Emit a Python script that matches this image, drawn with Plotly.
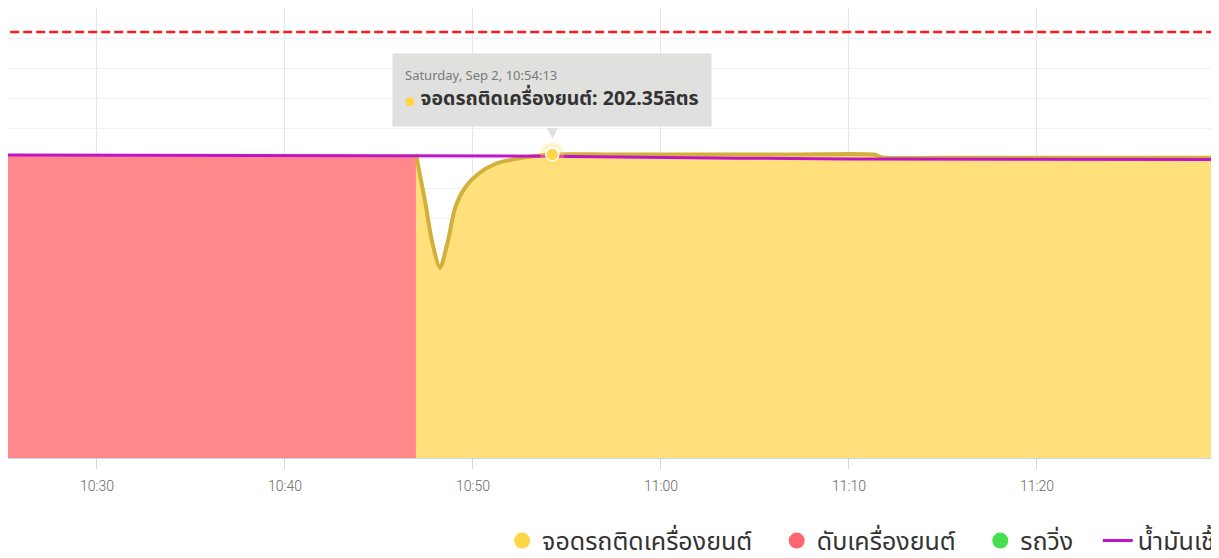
import plotly.graph_objects as go

dia = '2023-09-02 '

# ดับเครื่องยนต์ (engine off)
tiempos_apagado = ['10:24:00', '10:30:00', '10:35:00', '10:40:00', '10:45:00', '10:46:58']
litros_apagado = [201.3, 201.3, 201.2, 201.2, 201.1, 201.1]

# จอดรถติดเครื่องยนต์ (idling)
tiempos_ralenti = ['10:46:58', '10:47:27', '10:47:49', '10:48:15', '10:48:40', '10:49:03',
                   '10:49:34', '10:50:16', '10:51:10', '10:52:14', '10:53:18', '10:54:13',
                   '10:57:00', '11:02:00', '11:07:00', '11:11:20', '11:11:48', '11:15:00',
                   '11:22:00', '11:31:00']
litros_ralenti = [202.6, 171.3, 144.7, 126.7, 144.7, 166.7,
                  180.0, 189.3, 196.0, 199.3, 201.3, 202.35,
                  202.4, 202.4, 202.4, 202.3, 200.3, 200.2,
                  200.2, 200.1]

# น้ำมันเชื้อเพลิง (fuel line)
tiempos_combustible = ['10:24:00', '10:45:00', '10:54:00', '11:04:00', '11:10:00', '11:31:00']
litros_combustible = [202.0, 201.4, 201.2, 199.9, 199.4, 198.9]

# linea de capacidad (roja punteada)
tiempos_limite = ['10:24:00', '11:31:00']
litros_limite = [284, 284]

# punto del tooltip
tiempo_tooltip = '10:54:13'
valor_tooltip = 202.35

fuente_thai = 'Noto Sans Thai, Noto Sans, DejaVu Sans, sans-serif'
esp = '\u00a0\u00a0\u00a0'

fig = go.Figure()

fig.add_trace(go.Scatter(x=[dia + t for t in tiempos_apagado], y=litros_apagado, mode='lines',
                         fill='tozeroy', fillcolor='#ff888b', line=dict(color='#ff888b', width=1),
                         showlegend=False, hoverinfo='skip'))

fig.add_trace(go.Scatter(x=[dia + t for t in tiempos_ralenti], y=litros_ralenti, mode='lines',
                         fill='tozeroy', fillcolor='#ffe07a',
                         line=dict(color='#d2b03c', width=4, shape='spline', smoothing=0.7),
                         showlegend=False, hoverinfo='skip'))

fig.add_trace(go.Scatter(x=[dia + t for t in tiempos_limite], y=litros_limite, mode='lines',
                         line=dict(color='#ff1a1a', width=2.5, dash='9px,4px'),
                         showlegend=False, hoverinfo='skip'))

fig.add_trace(go.Scatter(x=[dia + t for t in tiempos_combustible], y=litros_combustible, mode='lines',
                         line=dict(color='#c014c8', width=3),
                         showlegend=False, hoverinfo='skip'))

# marcador resaltado
fig.add_trace(go.Scatter(x=[dia + tiempo_tooltip], y=[valor_tooltip], mode='markers',
                         marker=dict(size=24, color='rgba(255,220,90,0.3)', line=dict(width=0)),
                         showlegend=False, hoverinfo='skip'))
fig.add_trace(go.Scatter(x=[dia + tiempo_tooltip], y=[valor_tooltip], mode='markers',
                         marker=dict(size=13, color='#ffd54a', line=dict(color='white', width=1.5)),
                         showlegend=False, hoverinfo='skip'))

# entradas de leyenda
leyenda = [('จอดรถติดเครื่องยนต์', '#ffd746', 'markers'),
           ('ดับเครื่องยนต์', '#ff6670', 'markers'),
           ('รถวิ่ง', '#45e050', 'markers'),
           ('น้ำมันเชื้อเพลิง', '#c014c8', 'lines')]
for nombre, color, modo in leyenda:
    fig.add_trace(go.Scatter(x=[None], y=[None], mode=modo, name=nombre + esp,
                             marker=dict(size=16, color=color, symbol='circle'),
                             line=dict(color=color, width=3)))

fig.add_annotation(
    x=dia + tiempo_tooltip, y=valor_tooltip, xref='x', yref='y',
    xanchor='center', yanchor='bottom', yshift=27, showarrow=False, align='left',
    text=('<span style="font-size:13px;color:#7a7a7a">Saturday, Sep 2, 10:54:13</span><br>'
          '<span style="color:#ffd746;font-size:12px">●</span> '
          '<b>จอดรถติดเครื่องยนต์: 202.35ลิตร</b>'),
    font=dict(family=fuente_thai, size=19.5, color='#333333'),
    bgcolor='#e0e0de', borderpad=12,
)
fig.add_annotation(
    x=dia + tiempo_tooltip, y=valor_tooltip, xref='x', yref='y',
    xanchor='center', yanchor='top', yshift=34, showarrow=False,
    text='▼', font=dict(size=14, color='#e0e0de'),
)

fig.update_layout(
    width=1219, height=558,
    margin=dict(l=0, r=8, t=0, b=108, autoexpand=False),
    paper_bgcolor='white', plot_bgcolor='white',
    font=dict(family=fuente_thai, color='#333333'),
    showlegend=True,
    legend=dict(orientation='h', x=0.408, xanchor='left', y=-0.184, yanchor='middle',
                font=dict(family=fuente_thai, size=25, color='#333333'),
                itemsizing='trace', bgcolor='rgba(0,0,0,0)'),
    xaxis=dict(range=[dia + '10:25:16', dia + '11:29:41'], type='date',
               tickformat='%H:%M', dtick=600000, tick0=dia + '10:30:00',
               showgrid=True, gridcolor='#e6e6e6', gridwidth=1,
               showline=True, linecolor='#ccd6eb', linewidth=1,
               ticks='outside', ticklen=10, tickcolor='#ccd6eb',
               tickfont=dict(family='Roboto', size=14, color='#666666', weight=300),
               ticklabelstandoff=5, zeroline=False, layer='below traces'),
    yaxis=dict(range=[0, 300], dtick=20, showticklabels=False,
               showgrid=True, gridcolor='#f0f0f0', gridwidth=1, zeroline=False),
)

fig.write_html('out.html')
